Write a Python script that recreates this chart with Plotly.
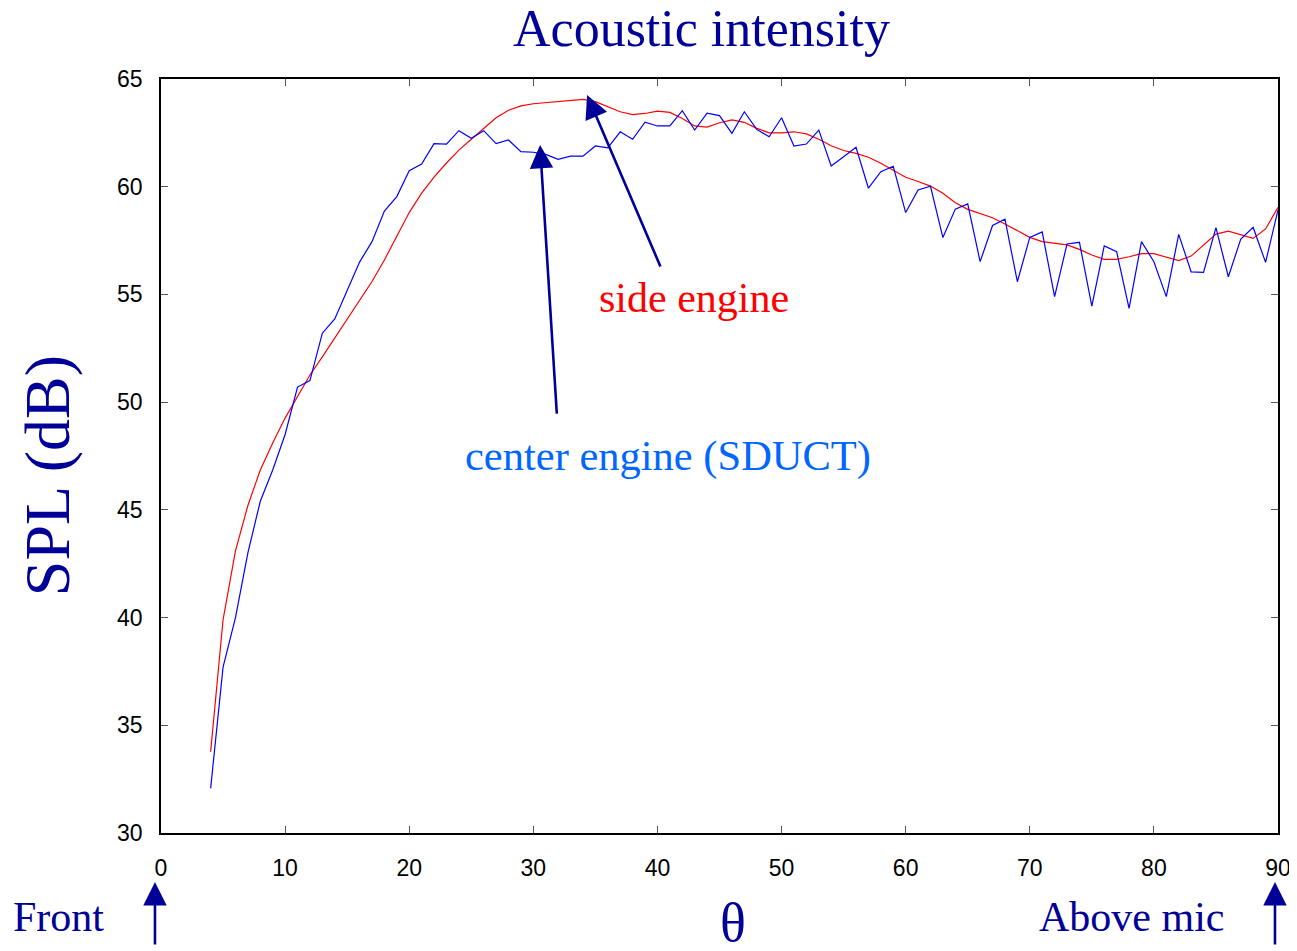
import plotly.graph_objects as go

theta = list(range(4, 91))

center_engine = [
    32.07, 37.7, 40.0, 43.0, 45.4, 46.85, 48.5, 50.7, 51.0, 53.2,
    53.86, 55.2, 56.5, 57.45, 58.87, 59.54, 60.74, 61.05, 62.0, 61.98,
    62.6, 62.25, 62.6, 62.0, 62.17, 61.63, 61.6, 61.5, 61.27, 61.42,
    61.42, 61.89, 61.8, 62.55, 62.2, 63.0, 62.82, 62.82, 63.53, 62.63,
    63.41, 63.3, 62.48, 63.48, 62.66, 62.32, 63.2, 61.89, 61.98, 62.63,
    60.96, 61.39, 61.83, 59.93, 60.7, 60.95, 58.8, 59.85, 60.02, 57.64,
    58.96, 59.2, 56.52, 58.2, 58.49, 55.59, 57.65, 57.9, 54.9, 57.34,
    57.42, 54.46, 57.25, 56.98, 54.35, 57.45, 56.52, 54.9, 57.79, 56.05,
    56.02, 58.1, 55.82, 57.57, 58.11, 56.49, 58.92,
]

side_engine = [
    33.77, 39.9, 43.1, 45.2, 46.85, 48.1, 49.26, 50.25, 51.26, 52.1,
    52.98, 53.9, 54.75, 55.6, 56.6, 57.7, 58.8, 59.7, 60.45, 61.1,
    61.7, 62.2, 62.7, 63.2, 63.55, 63.75, 63.85, 63.9, 63.93, 64.0,
    64.05, 63.95, 63.7, 63.48, 63.35, 63.4, 63.51, 63.45, 63.17, 62.82,
    62.77, 62.97, 63.1, 62.99, 62.71, 62.5, 62.5, 62.55, 62.45, 62.2,
    61.9, 61.68, 61.55, 61.37, 61.09, 60.78, 60.44, 60.24, 60.03, 59.7,
    59.26, 58.95, 58.77, 58.56, 58.27, 57.94, 57.65, 57.45, 57.37, 57.3,
    57.09, 56.83, 56.63, 56.63, 56.75, 56.89, 56.89, 56.72, 56.57, 56.78,
    57.29, 57.8, 57.94, 57.76, 57.6, 58.04, 59.04,
]

x_ticks = [0, 10, 20, 30, 40, 50, 60, 70, 80, 90]
y_ticks = [30, 35, 40, 45, 50, 55, 60, 65]

NAVY = "#000099"
SERIF = "Liberation Serif, Times New Roman, serif"
SANS = "Liberation Sans, Arial, sans-serif"

fig = go.Figure()
fig.add_trace(go.Scatter(x=theta, y=side_engine, mode="lines",
                         line=dict(color="#ff0000", width=1.2),
                         name="side engine", showlegend=False))
fig.add_trace(go.Scatter(x=theta, y=center_engine, mode="lines",
                         line=dict(color="#0000ff", width=1.2),
                         name="center engine (SDUCT)", showlegend=False))

ARROW = dict(showarrow=True, arrowhead=2, arrowsize=1.8, arrowwidth=2.6,
             arrowcolor=NAVY, text="", standoff=0)
C = dict(xanchor="center", yanchor="middle", showarrow=False)

annotations = [
    # title
    dict(x=0.4843, y=1.0665, xref="paper", yref="paper",
         text="Acoustic intensity",
         font=dict(family=SERIF, size=52, color=NAVY), **C),
    # pointer arrows inside the plot
    dict(x=30.54, y=61.94, ax=31.9, ay=49.4, xref="x", yref="y",
         axref="x", ayref="y", **ARROW),
    dict(x=34.33, y=64.26, ax=40.29, ay=56.23, xref="x", yref="y",
         axref="x", ayref="y", **ARROW),
    # labels
    dict(x=42.95, y=54.83, xref="x", yref="y", text="side engine",
         font=dict(family=SERIF, size=42, color="#ff0000"), **C),
    dict(x=40.85, y=47.5, xref="x", yref="y", text="center engine (SDUCT)",
         font=dict(family=SERIF, size=42.5, color="#0066ff"), **C),
    # axis titles
    dict(x=-0.101, y=0.4735, xref="paper", yref="paper", text="SPL (dB)",
         textangle=-90, font=dict(family=SERIF, size=64, color=NAVY), **C),
    dict(x=0.5121, y=-0.119, xref="paper", yref="paper", text="θ",
         font=dict(family=SERIF, size=54, color=NAVY), **C),
    dict(x=-0.0922, y=-0.1114, xref="paper", yref="paper", text="Front",
         font=dict(family=SERIF, size=42, color=NAVY), **C),
    dict(x=0.8684, y=-0.1114, xref="paper", yref="paper", text="Above mic",
         font=dict(family=SERIF, size=42, color=NAVY), **C),
    # bottom arrows
    dict(x=-0.0054, y=-0.065, xref="paper", yref="paper", ax=0, ay=64, **ARROW),
    dict(x=0.9973, y=-0.065, xref="paper", yref="paper", ax=0, ay=64, **ARROW),
]

fig.update_layout(
    width=1297, height=951,
    margin=dict(l=153, r=27, t=71, b=126),
    paper_bgcolor="white", plot_bgcolor="white",
    annotations=annotations,
    xaxis=dict(range=[0, 90], tickvals=x_ticks, ticks="inside", ticklen=7,
               tickcolor="#555555", showline=True, linecolor="black",
               linewidth=1.5, mirror="ticks", showgrid=False, zeroline=False,
               ticklabelstandoff=14,
               tickfont=dict(family=SANS, size=23, color="black")),
    yaxis=dict(range=[30, 65], tickvals=y_ticks, ticks="inside", ticklen=7,
               tickcolor="#555555", showline=True, linecolor="black",
               linewidth=1.5, mirror="ticks", showgrid=False, zeroline=False,
               ticklabelstandoff=12,
               tickfont=dict(family=SANS, size=23, color="black")),
)

fig.write_html("out.html")
